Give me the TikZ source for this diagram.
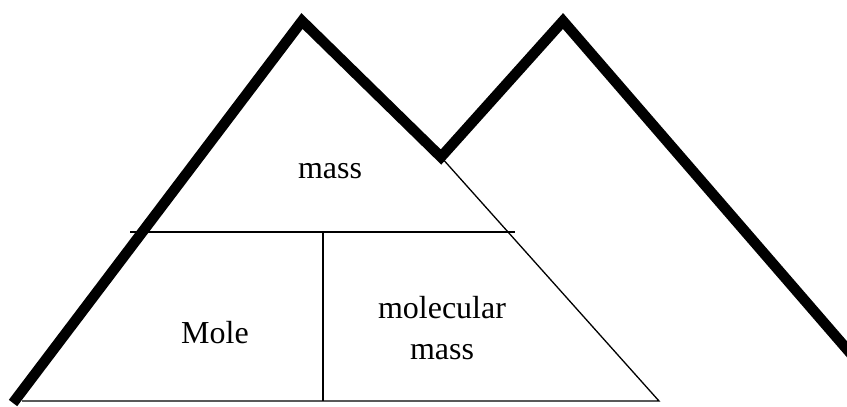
\documentclass[tikz,border=0pt]{standalone}
\usepackage{fontspec}
\setmainfont{Liberation Serif}
\usetikzlibrary{positioning}
\tikzset{
  ridge/.style={line width=10.5pt,line join=miter,line cap=butt},
  thin/.style={line width=1.3pt},
  lbl/.style={anchor=base,inner sep=0pt,font=\fontsize{32}{40}\selectfont}
}
\begin{document}
\begin{tikzpicture}[x=1pt,y=-1pt]
\useasboundingbox (0,0) rectangle (847,407);
\clip (0,0) rectangle (847,407);
\coordinate (foot) at (13,403);
\coordinate (peakL) at (302,21);
\coordinate (valley) at (441,157);
\coordinate (peakR) at (563,21);
\coordinate (footR) at (858,362);
\coordinate (baseL) at (22,401);
\coordinate (baseR) at (659,401);
\coordinate (midL) at (130,232);
\coordinate (midR) at (515,232);
\coordinate (divT) at (323,232);
\coordinate (divB) at (323,401);
% triangle
\draw[thin] (baseL) -- (baseR) -- (valley);
\draw[thin] (midL) -- (midR);
\draw[thin] (divT) -- (divB);
% mountains
\draw[ridge] (foot) -- (peakL) -- (valley) -- (peakR) -- (footR);
\node[lbl] (mass) at (330,178) {mass};
\node[lbl] (mole) at (215,343) {Mole};
\node[lbl] (molec) at (442,318) {molecular};
\node[lbl] (mmass) at (442,359) {mass};
\end{tikzpicture}
\end{document}
